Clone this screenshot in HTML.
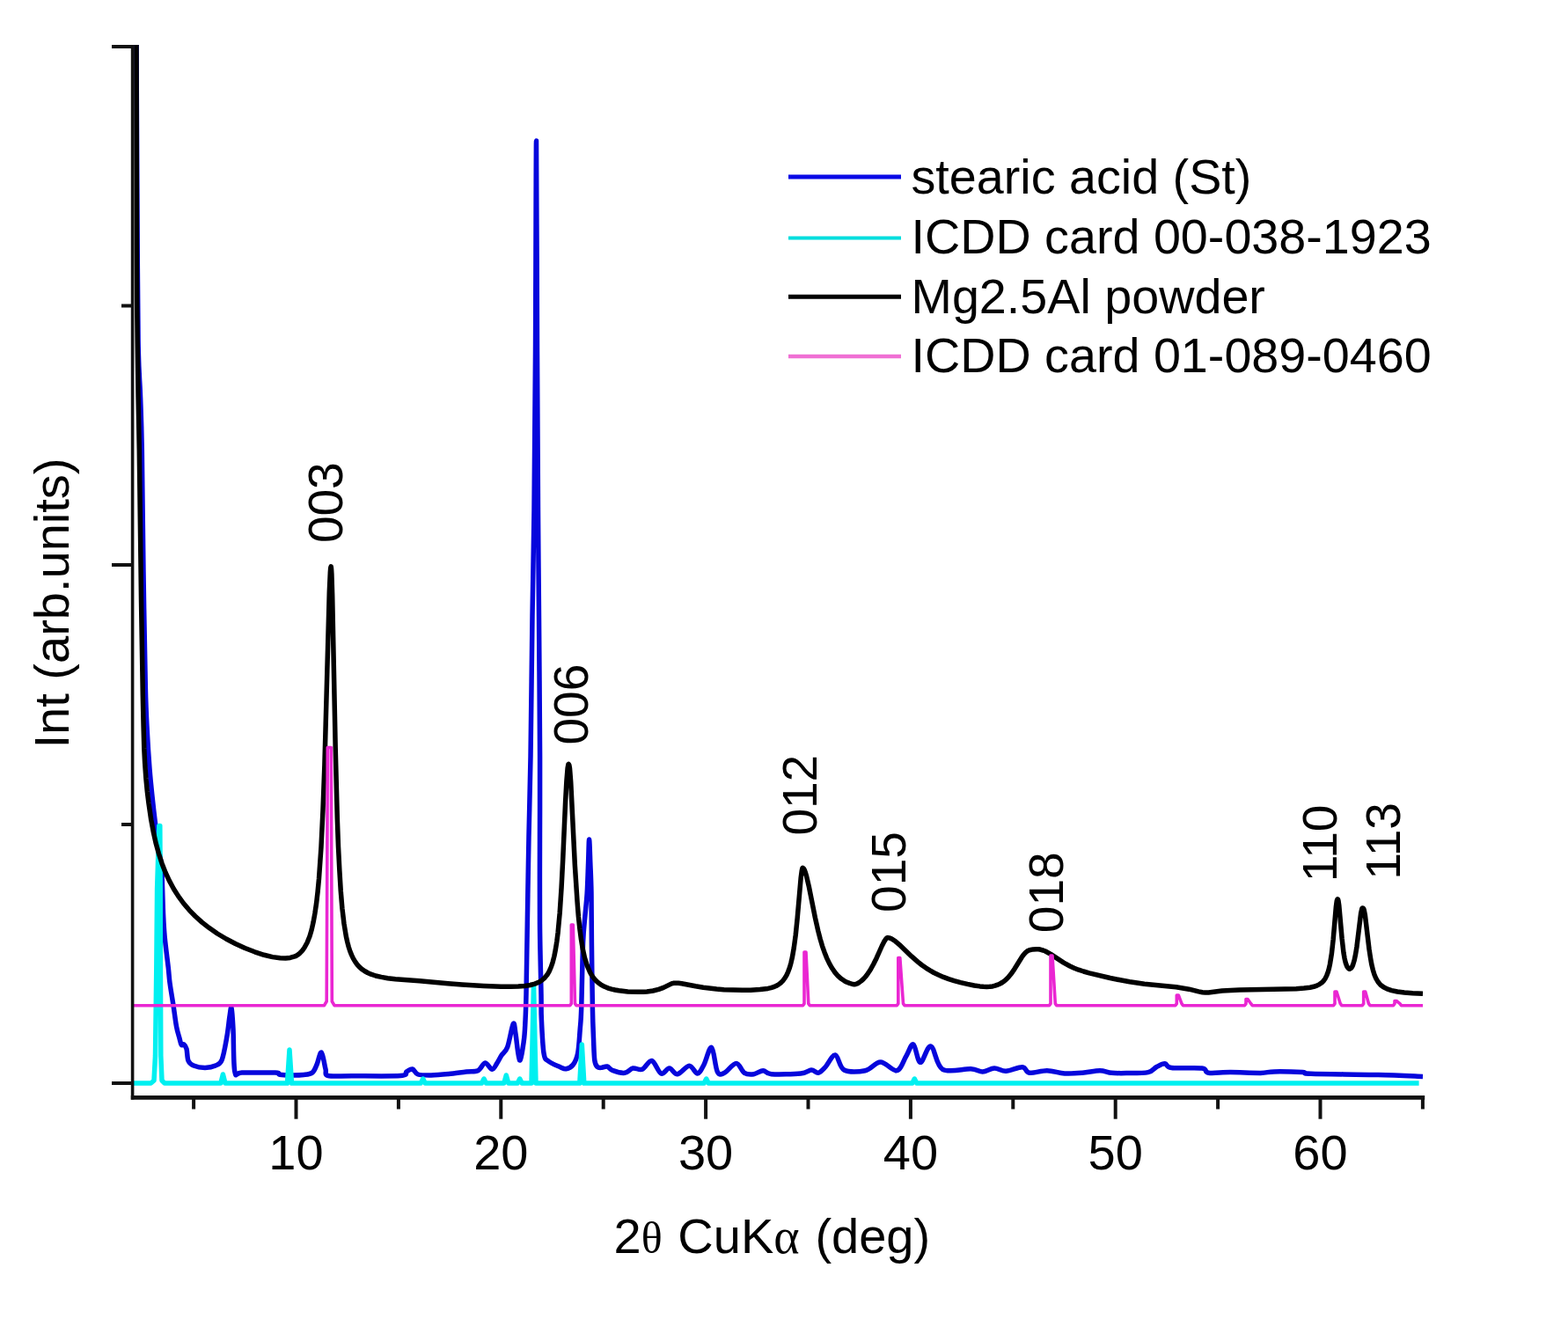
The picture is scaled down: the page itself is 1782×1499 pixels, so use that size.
<!DOCTYPE html>
<html><head><meta charset="utf-8"><title>XRD</title>
<style>html,body{margin:0;padding:0;background:#fff;}svg{display:block;}</style>
</head><body>
<svg width="1782" height="1499" viewBox="0 0 1782 1499">
<rect width="1782" height="1499" fill="#fff"/>
<g fill="none" stroke-linejoin="round" stroke-linecap="butt">
<path d="M155.00,51.00C155.22,92.50 155.92,241.83 156.30,300.00C156.68,358.17 156.75,374.67 157.30,400.00C157.85,425.33 158.93,433.33 159.60,452.00C160.27,470.67 160.73,479.00 161.30,512.00C161.87,545.00 162.33,605.33 163.00,650.00C163.67,694.67 164.60,750.00 165.30,780.00C166.00,810.00 166.42,814.42 167.20,830.00C167.98,845.58 169.03,861.00 170.00,873.50C170.97,886.00 171.95,894.92 173.00,905.00C174.05,915.08 175.05,924.00 176.30,934.00C177.55,944.00 179.28,956.50 180.50,965.00C181.72,973.50 182.92,977.50 183.60,985.00C184.28,992.50 184.27,1000.83 184.60,1010.00C184.93,1019.17 185.17,1030.83 185.60,1040.00C186.03,1049.17 186.25,1055.00 187.20,1065.00C188.15,1075.00 190.33,1091.33 191.30,1100.00C192.27,1108.67 192.02,1109.70 193.00,1117.00C193.98,1124.30 195.93,1135.47 197.20,1143.80C198.47,1152.13 199.47,1160.97 200.60,1167.00C201.73,1173.03 203.07,1176.58 204.00,1180.00C204.93,1183.42 205.37,1186.33 206.20,1187.50C207.03,1188.67 208.03,1186.25 209.00,1187.00C209.97,1187.75 211.17,1188.92 212.00,1192.00C212.83,1195.08 212.67,1202.33 214.00,1205.50C215.33,1208.67 216.83,1209.68 220.00,1211.00C223.17,1212.32 228.83,1213.40 233.00,1213.40C237.17,1213.40 241.80,1212.50 245.00,1211.00C248.20,1209.50 250.07,1209.80 252.20,1204.40C254.33,1199.00 256.33,1186.83 257.80,1178.60C259.27,1170.37 260.13,1160.52 261.00,1155.00C261.87,1149.48 262.33,1143.00 263.00,1145.50C263.67,1148.00 264.37,1157.95 265.00,1170.00C265.63,1182.05 265.13,1209.63 266.80,1217.80C268.47,1225.97 267.33,1218.80 275.00,1219.00C282.67,1219.20 305.63,1218.63 312.80,1219.00C319.97,1219.37 315.13,1220.70 318.00,1221.20C320.87,1221.70 325.50,1221.95 330.00,1222.00C334.50,1222.05 340.83,1222.00 345.00,1221.50C349.17,1221.00 352.50,1220.92 355.00,1219.00C357.50,1217.08 358.28,1213.83 360.00,1210.00C361.72,1206.17 363.63,1195.17 365.30,1196.00C366.97,1196.83 368.72,1210.58 370.00,1215.00C371.28,1219.42 368.00,1221.22 373.00,1222.50C378.00,1223.78 386.33,1222.70 400.00,1222.70C413.67,1222.70 444.67,1223.28 455.00,1222.50C465.33,1221.72 459.72,1219.25 462.00,1218.00C464.28,1216.75 466.53,1214.50 468.70,1215.00C470.87,1215.50 471.45,1219.83 475.00,1221.00C478.55,1222.17 484.17,1222.08 490.00,1222.00C495.83,1221.92 503.33,1221.17 510.00,1220.50C516.67,1219.83 524.45,1218.63 530.00,1218.00C535.55,1217.37 539.75,1218.37 543.30,1216.70C546.85,1215.03 548.63,1208.23 551.30,1208.00C553.97,1207.77 557.02,1215.30 559.30,1215.30C561.58,1215.30 563.22,1210.67 565.00,1208.00C566.78,1205.33 568.05,1202.30 570.00,1199.30C571.95,1196.30 574.48,1195.97 576.70,1190.00C578.92,1184.03 581.75,1166.00 583.30,1163.50C584.85,1161.00 584.80,1168.08 586.00,1175.00C587.20,1181.92 588.95,1203.67 590.50,1205.00C592.05,1206.33 594.22,1190.50 595.30,1183.00C596.38,1175.50 596.55,1168.83 597.00,1160.00C597.45,1151.17 597.62,1148.33 598.00,1130.00C598.38,1111.67 598.80,1080.00 599.30,1050.00C599.80,1020.00 600.38,981.67 601.00,950.00C601.62,918.33 602.33,901.67 603.00,860.00C603.67,818.33 604.33,746.67 605.00,700.00C605.67,653.33 606.42,630.00 607.00,580.00C607.58,530.00 608.08,470.00 608.50,400.00C608.92,330.00 609.17,160.00 609.50,160.00C609.83,160.00 610.17,330.00 610.50,400.00C610.83,470.00 611.17,530.00 611.50,580.00C611.83,630.00 612.15,653.33 612.50,700.00C612.85,746.67 613.43,818.33 613.60,860.00C613.77,901.67 613.52,918.33 613.50,950.00C613.48,981.67 613.25,1020.00 613.50,1050.00C613.75,1080.00 614.70,1112.22 615.00,1130.00C615.30,1147.78 614.80,1145.58 615.30,1156.70C615.80,1167.82 616.67,1188.48 618.00,1196.70C619.33,1204.92 620.18,1203.33 623.30,1206.00C626.42,1208.67 633.37,1211.25 636.70,1212.70C640.03,1214.15 640.87,1215.15 643.30,1214.70C645.73,1214.25 649.07,1213.00 651.30,1210.00C653.53,1207.00 655.38,1203.37 656.70,1196.70C658.02,1190.03 658.53,1178.45 659.20,1170.00C659.87,1161.55 660.13,1162.50 660.70,1146.00C661.27,1129.50 661.88,1088.67 662.60,1071.00C663.32,1053.33 664.23,1049.33 665.00,1040.00C665.77,1030.67 666.60,1025.00 667.20,1015.00C667.80,1005.00 668.20,990.17 668.60,980.00C669.00,969.83 669.23,954.00 669.60,954.00C669.97,954.00 670.40,969.83 670.80,980.00C671.20,990.17 671.73,999.83 672.00,1015.00C672.27,1030.17 672.17,1049.17 672.40,1071.00C672.63,1092.83 673.05,1127.83 673.40,1146.00C673.75,1164.17 674.10,1170.17 674.50,1180.00C674.90,1189.83 675.05,1199.58 675.80,1205.00C676.55,1210.42 677.63,1211.12 679.00,1212.50C680.37,1213.88 682.17,1213.38 684.00,1213.30C685.83,1213.22 687.88,1211.43 690.00,1212.00C692.12,1212.57 693.37,1215.48 696.70,1216.70C700.03,1217.92 706.23,1219.75 710.00,1219.30C713.77,1218.85 715.97,1214.67 719.30,1214.00C722.63,1213.33 726.43,1216.72 730.00,1215.30C733.57,1213.88 737.15,1204.72 740.70,1205.50C744.25,1206.28 747.97,1218.58 751.30,1220.00C754.63,1221.42 757.58,1213.88 760.70,1214.00C763.82,1214.12 766.23,1221.15 770.00,1220.70C773.77,1220.25 779.52,1211.42 783.30,1211.30C787.08,1211.18 789.92,1220.22 792.70,1220.00C795.48,1219.78 797.33,1214.92 800.00,1210.00C802.67,1205.08 806.15,1189.17 808.70,1190.50C811.25,1191.83 812.87,1213.20 815.30,1218.00C817.73,1222.80 819.73,1220.88 823.30,1219.30C826.87,1217.72 832.92,1208.50 836.70,1208.50C840.48,1208.50 842.67,1217.27 846.00,1219.30C849.33,1221.33 853.15,1221.13 856.70,1220.70C860.25,1220.27 863.97,1216.70 867.30,1216.70C870.63,1216.70 869.58,1220.15 876.70,1220.70C883.82,1221.25 902.45,1220.78 910.00,1220.00C917.55,1219.22 918.67,1216.12 922.00,1216.00C925.33,1215.88 927.33,1219.85 930.00,1219.30C932.67,1218.75 934.78,1216.08 938.00,1212.70C941.22,1209.32 945.75,1198.45 949.30,1199.00C952.85,1199.55 953.63,1213.05 959.30,1216.00C964.97,1218.95 976.40,1218.20 983.30,1216.70C990.20,1215.20 994.70,1207.00 1000.70,1207.00C1006.70,1207.00 1014.42,1217.87 1019.30,1216.70C1024.18,1215.53 1026.88,1204.95 1030.00,1200.00C1033.12,1195.05 1035.33,1185.78 1038.00,1187.00C1040.67,1188.22 1042.67,1206.97 1046.00,1207.30C1049.33,1207.63 1053.78,1187.67 1058.00,1189.00C1062.22,1190.33 1063.75,1211.02 1071.30,1215.30C1078.85,1219.58 1095.73,1214.25 1103.30,1214.70C1110.87,1215.15 1112.25,1218.12 1116.70,1218.00C1121.15,1217.88 1125.57,1214.12 1130.00,1214.00C1134.43,1213.88 1137.97,1217.52 1143.30,1217.30C1148.63,1217.08 1157.55,1212.37 1162.00,1212.70C1166.45,1213.03 1165.33,1218.63 1170.00,1219.30C1174.67,1219.97 1183.33,1216.58 1190.00,1216.70C1196.67,1216.82 1203.33,1219.57 1210.00,1220.00C1216.67,1220.43 1223.33,1219.85 1230.00,1219.30C1236.67,1218.75 1244.45,1216.70 1250.00,1216.70C1255.55,1216.70 1258.30,1218.82 1263.30,1219.30C1268.30,1219.78 1273.08,1219.72 1280.00,1219.60C1286.92,1219.48 1299.07,1219.78 1304.80,1218.60C1310.53,1217.42 1311.22,1214.13 1314.40,1212.50C1317.58,1210.87 1321.05,1208.62 1323.90,1208.80C1326.75,1208.98 1324.50,1212.73 1331.50,1213.60C1338.50,1214.47 1358.90,1213.07 1365.90,1214.00C1372.90,1214.93 1368.10,1218.43 1373.50,1219.20C1378.90,1219.97 1388.43,1218.57 1398.30,1218.60C1408.17,1218.63 1424.43,1219.52 1432.70,1219.40C1440.97,1219.28 1439.95,1218.03 1447.90,1217.90C1455.85,1217.77 1473.40,1218.20 1480.40,1218.60C1487.40,1219.00 1475.58,1219.82 1489.90,1220.30C1504.22,1220.78 1545.12,1220.98 1566.30,1221.50C1587.48,1222.02 1608.55,1223.08 1617.00,1223.40" stroke="#0606dc" stroke-width="5.5"/>
<polyline points="150.0,1231.0 171.5,1231.0 175.0,1228.0 176.5,1200.0 177.8,1100.0 178.6,1010.0 180.8,938.5 181.8,938.5 182.2,1010.0 182.4,1100.0 182.8,1200.0 184.0,1228.0 187.0,1231.0 250.9,1231.0 253.4,1221.0 255.9,1231.0 326.5,1231.0 329.0,1193.0 331.5,1231.0 478.2,1231.0 480.7,1226.0 483.2,1231.0 547.5,1231.0 550.0,1226.0 552.5,1231.0 572.8,1231.0 575.3,1222.0 577.8,1231.0 588.2,1231.0 590.7,1226.0 593.2,1231.0 604.0,1231.0 606.5,1119.0 609.0,1231.0 658.8,1231.0 661.3,1187.0 663.8,1231.0 800.2,1231.0 802.7,1226.0 805.2,1231.0 1036.8,1231.0 1039.3,1226.0 1041.8,1231.0 1612.6,1231.0" stroke="#00f0f0" stroke-width="5.5"/>
<polyline points="155.0,51.0 155.4,287.5 155.7,342.5 156.2,389.5 157.1,451.0 158.3,511.6 160.5,681.8 162.3,789.5 163.1,825.5 163.8,850.9 164.6,866.6 165.9,884.8 167.3,899.3 169.0,913.1 171.7,931.5 174.4,945.9 177.3,958.8 180.4,970.0 184.0,981.2 188.0,991.5 192.4,1000.9 197.3,1010.0 202.6,1018.4 208.5,1026.5 214.9,1034.1 221.9,1041.2 229.5,1048.1 237.8,1054.6 247.0,1061.0 257.0,1067.0 267.5,1072.5 278.4,1077.5 289.5,1081.8 300.1,1085.3 309.8,1087.6 318.4,1088.8 324.5,1089.0 329.8,1088.4 335.1,1086.9 337.0,1086.1 338.6,1085.0 340.7,1083.3 342.6,1081.4 344.4,1079.2 346.1,1076.7 349.2,1071.0 352.0,1064.0 354.2,1056.5 356.1,1047.9 357.9,1037.9 359.6,1026.5 361.1,1013.4 362.5,998.4 365.0,962.4 367.0,920.7 368.9,869.3 374.3,672.7 375.3,650.8 375.7,645.5 376.2,643.8 376.5,645.8 376.9,652.0 377.7,677.6 381.2,850.3 383.3,929.9 384.5,962.3 385.9,989.9 387.3,1013.0 388.9,1032.2 391.0,1049.9 393.4,1064.4 394.8,1070.6 396.2,1076.0 397.8,1081.0 399.6,1085.4 401.5,1089.4 403.6,1092.9 405.9,1096.1 408.4,1098.9 411.2,1101.4 414.3,1103.5 417.8,1105.5 421.6,1107.2 427.0,1109.0 433.3,1110.4 440.6,1111.7 449.4,1112.7 476.6,1114.8 509.2,1117.8 525.1,1119.0 549.8,1120.5 569.5,1121.3 580.1,1121.3 589.0,1121.1 596.3,1120.5 602.6,1119.5 607.8,1118.1 612.2,1116.3 615.9,1114.0 619.2,1111.1 621.9,1107.8 624.2,1103.8 626.3,1099.0 628.2,1093.3 629.9,1086.6 631.4,1078.9 632.8,1070.1 634.1,1059.8 636.2,1037.3 638.1,1008.3 639.7,977.0 642.6,911.3 643.9,887.7 645.1,873.1 645.7,869.7 645.9,868.8 646.2,868.5 646.6,868.9 646.9,869.7 647.5,873.3 648.7,888.6 653.4,984.0 656.1,1025.4 657.4,1041.7 658.9,1055.6 660.5,1067.8 662.2,1078.1 664.5,1088.5 667.2,1097.1 670.2,1104.2 671.8,1107.3 673.7,1110.1 675.6,1112.6 677.7,1114.9 680.1,1117.0 682.6,1118.8 685.3,1120.4 688.3,1121.8 691.5,1123.1 695.0,1124.1 698.9,1125.0 703.3,1125.8 713.5,1126.9 725.4,1127.3 730.9,1127.3 735.2,1127.0 742.2,1126.0 748.6,1124.4 754.1,1122.4 763.2,1117.9 765.3,1117.3 767.9,1117.2 771.0,1117.3 774.7,1117.8 790.5,1120.8 799.3,1122.2 814.3,1124.0 822.7,1124.7 833.2,1125.1 843.6,1125.3 852.9,1125.2 863.6,1124.6 872.7,1123.4 876.2,1122.6 879.3,1121.6 882.0,1120.5 884.5,1119.1 887.3,1117.0 889.7,1114.6 891.9,1111.7 893.9,1108.3 895.7,1104.3 897.4,1099.7 898.9,1094.4 900.3,1088.4 902.3,1077.0 904.2,1062.9 906.2,1043.2 910.2,997.3 911.3,989.1 911.8,987.1 912.2,986.3 913.2,987.0 914.3,988.8 915.4,991.7 916.6,995.8 919.4,1007.9 926.5,1043.4 929.9,1058.4 932.2,1067.2 934.5,1075.1 937.0,1082.2 939.5,1088.6 942.5,1094.9 945.6,1100.3 948.9,1105.1 952.4,1109.2 956.0,1112.3 959.7,1114.8 961.9,1116.0 965.5,1117.4 969.0,1118.5 970.9,1118.7 972.6,1118.5 974.0,1118.0 976.4,1116.6 978.7,1114.9 981.0,1112.9 983.2,1110.5 985.4,1107.8 989.1,1102.3 992.7,1095.7 996.1,1088.9 1002.3,1075.0 1004.6,1070.4 1007.0,1066.8 1008.0,1065.9 1008.9,1065.6 1010.6,1065.9 1012.7,1066.6 1014.9,1067.9 1017.4,1069.6 1022.1,1073.6 1036.0,1086.9 1043.7,1093.6 1048.0,1097.0 1052.4,1100.1 1056.9,1102.9 1061.4,1105.5 1066.7,1108.0 1072.2,1110.4 1078.1,1112.6 1084.4,1114.6 1091.7,1116.6 1099.4,1118.4 1107.2,1120.0 1113.5,1120.9 1117.6,1121.3 1121.4,1121.4 1124.8,1121.3 1128.1,1120.9 1131.0,1120.2 1133.8,1119.2 1136.5,1118.0 1139.1,1116.5 1141.6,1114.7 1144.0,1112.6 1146.4,1110.1 1148.7,1107.3 1152.9,1101.3 1161.3,1087.7 1163.4,1084.8 1165.4,1082.6 1167.6,1080.8 1170.0,1079.7 1174.0,1078.9 1177.8,1078.7 1180.4,1078.8 1182.9,1079.3 1185.4,1080.0 1188.0,1081.0 1194.1,1084.4 1208.9,1094.1 1216.0,1098.0 1220.8,1100.2 1225.9,1102.2 1231.5,1104.0 1237.9,1105.8 1261.7,1111.5 1273.1,1113.8 1283.8,1115.8 1300.6,1118.2 1328.7,1120.9 1336.6,1121.8 1351.3,1124.2 1362.2,1126.9 1366.5,1127.7 1369.8,1128.0 1373.5,1127.9 1388.8,1126.1 1408.6,1125.1 1473.1,1123.7 1482.0,1123.1 1488.8,1122.2 1493.1,1121.3 1496.6,1120.1 1499.6,1118.6 1502.2,1116.8 1504.4,1114.5 1506.3,1111.7 1507.9,1108.3 1509.4,1104.2 1510.5,1100.2 1511.5,1095.5 1513.4,1083.8 1515.2,1067.5 1518.4,1030.1 1519.3,1023.7 1519.8,1022.3 1520.2,1021.8 1520.6,1022.3 1521.0,1023.6 1521.8,1029.2 1525.1,1066.5 1527.0,1083.0 1528.1,1089.3 1529.3,1094.3 1530.6,1097.9 1532.1,1100.2 1533.0,1101.0 1533.9,1101.2 1534.9,1100.8 1535.8,1099.9 1536.7,1098.5 1537.6,1096.5 1539.2,1091.1 1540.6,1084.4 1542.0,1075.7 1546.6,1038.1 1547.7,1033.0 1548.3,1032.0 1548.9,1031.9 1549.6,1032.5 1550.2,1034.0 1551.4,1040.1 1556.0,1078.7 1557.4,1087.9 1558.7,1095.5 1560.3,1102.2 1562.0,1107.7 1563.9,1112.2 1566.1,1115.9 1568.9,1119.2 1572.3,1121.8 1576.4,1123.9 1581.5,1125.6 1588.1,1127.0 1596.0,1128.0 1605.4,1128.7 1617.0,1129.2" stroke="#000" stroke-width="5.5"/>
<polyline points="150.0,1142.7 368.5,1142.7 371.2,1138.0 372.3,849.5 376.3,849.5 377.3,1138.0 380.0,1142.7 647.8,1142.7 649.3,1140.7 649.3,1051.0 651.3,1051.0 653.5,1140.7 655.0,1142.7 912.5,1142.7 914.0,1140.7 914.0,1082.0 916.0,1082.0 918.8,1140.7 920.3,1142.7 1019.3,1142.7 1020.8,1140.7 1020.8,1088.5 1022.8,1088.5 1026.5,1140.7 1028.0,1142.7 1192.5,1142.7 1194.0,1140.7 1194.0,1086.0 1196.0,1086.0 1199.3,1140.7 1200.8,1142.7 1335.8,1142.7 1337.3,1140.7 1337.3,1131.0 1339.3,1131.0 1343.0,1140.7 1344.5,1142.7 1414.5,1142.7 1416.0,1140.7 1416.0,1135.5 1418.0,1135.5 1421.7,1140.7 1423.2,1142.7 1515.5,1142.7 1517.0,1140.7 1517.0,1127.0 1519.0,1127.0 1523.3,1140.7 1524.8,1142.7 1548.2,1142.7 1549.7,1140.7 1549.7,1127.0 1551.7,1127.0 1555.5,1140.7 1557.0,1142.7 1583.5,1142.7 1585.0,1140.7 1585.0,1137.5 1587.0,1137.5 1591.0,1140.7 1592.5,1142.7 1617.0,1142.7" stroke="#ea26d2" stroke-width="3.6"/>
</g>
<g stroke="#111" stroke-width="4" fill="none" stroke-linecap="butt">
<line x1="150.6" y1="51" x2="150.6" y2="1249.5" stroke-width="3.6"/>
<line x1="148.8" y1="1247.3" x2="1619.2" y2="1247.3" stroke-width="4.8"/>
<line x1="127" y1="53" x2="150" y2="53"/>
<line x1="127" y1="642" x2="150" y2="642"/>
<line x1="127" y1="1231" x2="150" y2="1231"/>
<line x1="138" y1="347.5" x2="150" y2="347.5"/>
<line x1="138" y1="937" x2="150" y2="937"/>
<line x1="336.5" y1="1247" x2="336.5" y2="1271.7"/>
<line x1="569.3" y1="1247" x2="569.3" y2="1271.7"/>
<line x1="802.1" y1="1247" x2="802.1" y2="1271.7"/>
<line x1="1034.9" y1="1247" x2="1034.9" y2="1271.7"/>
<line x1="1267.7" y1="1247" x2="1267.7" y2="1271.7"/>
<line x1="1500.5" y1="1247" x2="1500.5" y2="1271.7"/>
<line x1="220.1" y1="1247" x2="220.1" y2="1260.5"/>
<line x1="452.9" y1="1247" x2="452.9" y2="1260.5"/>
<line x1="685.7" y1="1247" x2="685.7" y2="1260.5"/>
<line x1="918.5" y1="1247" x2="918.5" y2="1260.5"/>
<line x1="1151.3" y1="1247" x2="1151.3" y2="1260.5"/>
<line x1="1384.1" y1="1247" x2="1384.1" y2="1260.5"/>
<line x1="1616.9" y1="1247" x2="1616.9" y2="1260.5"/>
</g>
<g font-family='"Liberation Sans", Arial, sans-serif' font-size="56" fill="#000" text-anchor="middle">
<text x="336.5" y="1328.5">10</text>
<text x="569.3" y="1328.5">20</text>
<text x="802.1" y="1328.5">30</text>
<text x="1034.9" y="1328.5">40</text>
<text x="1267.7" y="1328.5">50</text>
<text x="1500.5" y="1328.5">60</text>
</g>
<text x="697.5" y="1423.6" word-spacing="2.2" font-family='"Liberation Sans", Arial, sans-serif' font-size="56">2<tspan font-family='"Liberation Serif", serif' font-size="50">θ</tspan> CuK<tspan font-family='"Liberation Serif", serif'>α</tspan> (deg)</text>
<text transform="translate(77.7,685.5) rotate(-90)" text-anchor="middle" font-family='"Liberation Sans", Arial, sans-serif' font-size="56">Int (arb.units)</text>
<text transform="translate(389.0,571.2) rotate(-90)" text-anchor="middle" font-family='"Liberation Sans", Arial, sans-serif' font-size="55">003</text>
<text transform="translate(667.9,800.6) rotate(-90)" text-anchor="middle" font-family='"Liberation Sans", Arial, sans-serif' font-size="55">006</text>
<text transform="translate(928.0,903.7) rotate(-90)" text-anchor="middle" font-family='"Liberation Sans", Arial, sans-serif' font-size="55">012</text>
<text transform="translate(1029.3,991) rotate(-90)" text-anchor="middle" font-family='"Liberation Sans", Arial, sans-serif' font-size="55">015</text>
<text transform="translate(1207.5,1014.3) rotate(-90)" text-anchor="middle" font-family='"Liberation Sans", Arial, sans-serif' font-size="55">018</text>
<text transform="translate(1518.7,958.5) rotate(-90)" text-anchor="middle" font-family='"Liberation Sans", Arial, sans-serif' font-size="55">110</text>
<text transform="translate(1590.6,956) rotate(-90)" text-anchor="middle" font-family='"Liberation Sans", Arial, sans-serif' font-size="55">113</text>
<line x1="896" y1="201" x2="1024" y2="201" stroke="#0a0ae6" stroke-width="5"/>
<text x="1035.5" y="220.3" font-family='"Liberation Sans", Arial, sans-serif' font-size="55.7">stearic acid (St)</text>
<line x1="896" y1="270.5" x2="1024" y2="270.5" stroke="#00dede" stroke-width="4"/>
<text x="1035.5" y="288.2" font-family='"Liberation Sans", Arial, sans-serif' font-size="55.7">ICDD card 00-038-1923</text>
<line x1="896" y1="337.3" x2="1024" y2="337.3" stroke="#000" stroke-width="5"/>
<text x="1035.5" y="355.5" font-family='"Liberation Sans", Arial, sans-serif' font-size="55.7">Mg2.5Al powder</text>
<line x1="896" y1="405" x2="1024" y2="405" stroke="#f070d4" stroke-width="4.5"/>
<text x="1035.5" y="423.1" font-family='"Liberation Sans", Arial, sans-serif' font-size="55.7">ICDD card 01-089-0460</text>
</svg>
</body></html>
